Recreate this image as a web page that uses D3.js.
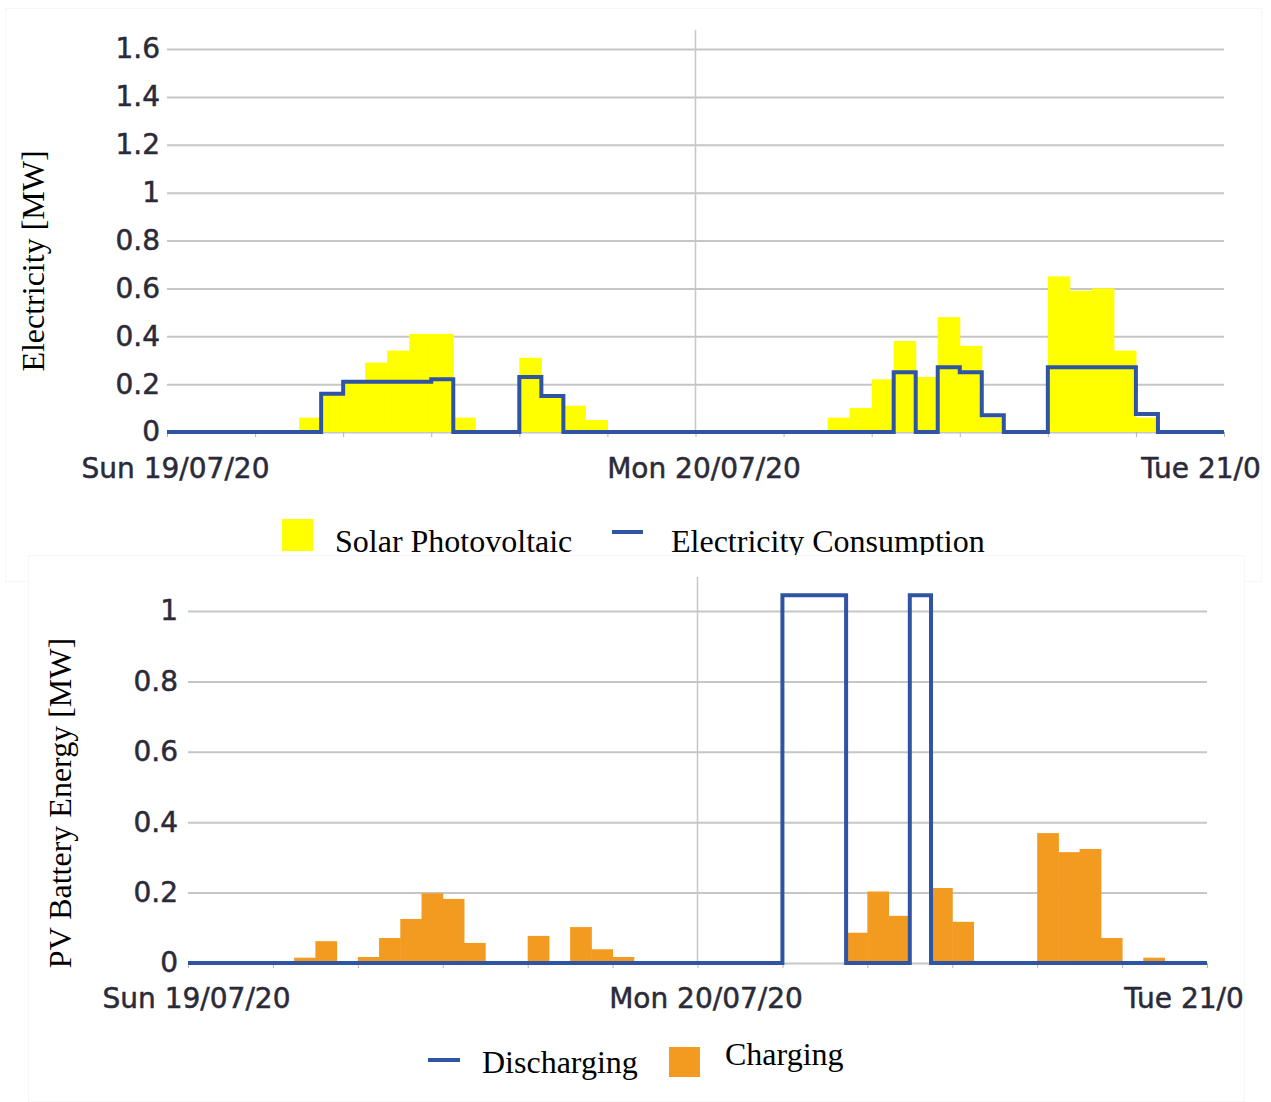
<!DOCTYPE html>
<html lang="en">
	<head>
		<meta charset="utf-8">
		<title>Electricity and PV battery</title>
		<script type="text/javascript" src="https://cdn.jsdelivr.net/npm/d3@7"></script>
		<style type="text/css">
			body { margin: 0; background: #fff; }
			.tick text { font-family: "DejaVu Sans", sans-serif; font-size: 28px; fill: #2a2a38; stroke: #2a2a38; stroke-width: 0.5px; }
			.legend, .title { font-family: "Liberation Serif", "Times New Roman", serif; font-size: 32px; fill: #000; }
		</style>
	</head>
	<body>
		<script type="text/javascript">

			var w = 1271;
			var h = 1102;

			// hourly values, Sun 19/07/20 00:00 .. Mon 20/07/20 23:00
			var xLabels = ["Sun 19/07/20", "Mon 20/07/20", "Tue 21/07/20"];
			var xLabelHours = [0, 24, 48];
			var minorHours = [0, 4, 8, 12, 16, 20, 24, 28, 32, 36, 40, 44, 48];

			var topTicks = [0, 0.2, 0.4, 0.6, 0.8, 1, 1.2, 1.4, 1.6];
			var bottomTicks = [0, 0.2, 0.4, 0.6, 0.8, 1];

			var solarPV = [0, 0, 0, 0, 0, 0, 0.06, 0.16, 0.21, 0.29, 0.34, 0.41, 0.41, 0.06, 0, 0,
				0.31, 0.15, 0.11, 0.05, 0, 0, 0, 0, 0, 0, 0, 0, 0, 0,
				0.06, 0.10, 0.22, 0.38, 0.23, 0.48, 0.36, 0.06, 0, 0,
				0.65, 0.59, 0.60, 0.34, 0.06, 0, 0, 0];

			var consumption = [0, 0, 0, 0, 0, 0, 0, 0.16, 0.21, 0.21, 0.21, 0.21, 0.22, 0, 0, 0,
				0.23, 0.15, 0, 0, 0, 0, 0, 0, 0, 0, 0, 0, 0, 0,
				0, 0, 0, 0.25, 0, 0.27, 0.25, 0.07, 0, 0,
				0.27, 0.27, 0.27, 0.27, 0.075, 0, 0, 0];

			var charging = [0, 0, 0, 0, 0, 0.015, 0.062, 0, 0.017, 0.071, 0.125, 0.198, 0.182, 0.057, 0, 0,
				0.077, 0, 0.102, 0.039, 0.017, 0, 0, 0, 0, 0, 0, 0, 0, 0,
				0, 0.086, 0.203, 0.134, 0, 0.213, 0.117, 0, 0, 0,
				0.369, 0.315, 0.324, 0.071, 0, 0.015, 0, 0];

			var discharging = [0, 0, 0, 0, 0, 0, 0, 0, 0, 0, 0, 0, 0, 0, 0, 0,
				0, 0, 0, 0, 0, 0, 0, 0, 0, 0, 0, 0, 1.045, 1.045,
				1.045, 0, 0, 0, 1.045, 0, 0, 0, 0, 0,
				0, 0, 0, 0, 0, 0, 0, 0];

			var blue = "#2f54a3";
			var grid = "#c6c6c6";

			var svg = d3.select("body")
						.append("svg")
						.attr("width", w)
						.attr("height", h);

			var defs = svg.append("defs");
			defs.append("clipPath").attr("id", "clipTop")
				.append("rect").attr("x", 5).attr("y", 8).attr("width", 1257).attr("height", 574);
			defs.append("clipPath").attr("id", "clipBottom")
				.append("rect").attr("x", 28).attr("y", 555).attr("width", 1217).attr("height", 547);

			function drawChart(cfg) {
				var g = svg.append("g").attr("clip-path", "url(#" + cfg.clip + ")");

				g.append("rect")
					.attr("x", cfg.panel[0]).attr("y", cfg.panel[1])
					.attr("width", cfg.panel[2]).attr("height", cfg.panel[3])
					.attr("fill", "#fff")
					.attr("stroke", "#efefef");

				var xScale = d3.scaleLinear().domain([0, 48]).range(cfg.xr);
				var yScale = d3.scaleLinear().domain(cfg.yd).range(cfg.yr);

				//Gridlines + Y labels
				var yAxis = d3.axisLeft(yScale)
								.tickValues(cfg.yTicks)
								.tickSize(-(cfg.xr[1] - cfg.xr[0]))
								.tickPadding(cfg.yPad)
								.tickFormat(function(d) { return String(d); });
				var ya = g.append("g")
					.attr("transform", "translate(" + cfg.xr[0] + ",0)")
					.call(yAxis);
				ya.select(".domain").remove();
				ya.selectAll("line").attr("stroke", grid).attr("stroke-width", 2);

				//Day line
				g.append("line")
					.attr("x1", xScale(24)).attr("x2", xScale(24))
					.attr("y1", cfg.dayTop).attr("y2", yScale(0))
					.attr("stroke", grid).attr("stroke-width", 1.5);

				//Minor ticks
				var minor = g.append("g")
					.attr("transform", "translate(0," + yScale(0) + ")")
					.call(d3.axisBottom(xScale).tickValues(minorHours).tickSize(5).tickFormat(""));
				minor.select(".domain").remove();
				minor.selectAll("line").attr("stroke", "#b4b4b4");

				//X labels
				var xa = g.append("g")
					.attr("transform", "translate(0," + yScale(0) + ")")
					.call(d3.axisBottom(xScale)
						.tickValues(xLabelHours)
						.tickSize(0)
						.tickPadding(cfg.xPad)
						.tickFormat(function(d, i) { return xLabels[i]; }));
				xa.select(".domain").remove();
				xa.selectAll("text").attr("dx", 8);

				//Bars
				var bars = cfg.bars.map(function(v, i) { return { h: i, v: v }; })
								.filter(function(d) { return d.v > 0; });
				g.selectAll("rect.bar")
					.data(bars)
					.enter()
					.append("rect")
					.attr("class", "bar")
					.attr("x", function(d) { return xScale(d.h); })
					.attr("width", function(d) { return xScale(d.h + 1) - xScale(d.h) + 0.5; })
					.attr("y", function(d) { return yScale(d.v); })
					.attr("height", function(d) { return yScale(0) - yScale(d.v); })
					.attr("fill", cfg.barColor);

				//Step line
				var pts = cfg.line.map(function(v, i) { return [i, v]; });
				pts.push([48, cfg.line[cfg.line.length - 1]]);
				var line = d3.line()
							.x(function(d) { return xScale(d[0]); })
							.y(function(d) { return yScale(d[1]); })
							.curve(d3.curveStepAfter);
				g.append("path")
					.datum(pts)
					.attr("d", line)
					.attr("fill", "none")
					.attr("stroke", blue)
					.attr("stroke-width", 4);

				//Y title
				g.append("text")
					.attr("class", "title")
					.attr("transform", "translate(" + cfg.titlePos[0] + "," + cfg.titlePos[1] + ") rotate(-90)")
					.attr("text-anchor", "middle")
					.text(cfg.title);

				return g;
			}

			var topChart = drawChart({
				clip: "clipTop", panel: [5, 8, 1257, 574],
				xr: [167, 1224], yd: [0, 1.6], yr: [432, 49],
				yTicks: topTicks, yPad: 7, xPad: 26, dayTop: 30,
				bars: solarPV, barColor: "#ffff00", line: consumption,
				title: "Electricity [MW]", titlePos: [44, 261]
			});

			//Top legend
			topChart.append("rect").attr("x", 282).attr("y", 519).attr("width", 31).attr("height", 32).attr("fill", "#ffff00");
			topChart.append("text").attr("class", "legend").attr("x", 335).attr("y", 552).text("Solar Photovoltaic");
			topChart.append("line").attr("x1", 612).attr("x2", 643).attr("y1", 532).attr("y2", 532)
				.attr("stroke", blue).attr("stroke-width", 4);
			topChart.append("text").attr("class", "legend").attr("x", 671).attr("y", 552).text("Electricity Consumption");

			var bottomChart = drawChart({
				clip: "clipBottom", panel: [28, 555, 1217, 547],
				xr: [188, 1207], yd: [0, 1], yr: [963, 611],
				yTicks: bottomTicks, yPad: 10, xPad: 25, dayTop: 577,
				bars: charging, barColor: "#f29b20", line: discharging,
				title: "PV Battery Energy [MW]", titlePos: [71, 803]
			});

			//Bottom legend
			bottomChart.append("line").attr("x1", 428).attr("x2", 460).attr("y1", 1060).attr("y2", 1060)
				.attr("stroke", blue).attr("stroke-width", 4);
			bottomChart.append("text").attr("class", "legend").attr("x", 482).attr("y", 1073).text("Discharging");
			bottomChart.append("rect").attr("x", 669).attr("y", 1047).attr("width", 31).attr("height", 30).attr("fill", "#f29b20");
			bottomChart.append("text").attr("class", "legend").attr("x", 725).attr("y", 1065).text("Charging");

		</script>
	</body>
</html>
